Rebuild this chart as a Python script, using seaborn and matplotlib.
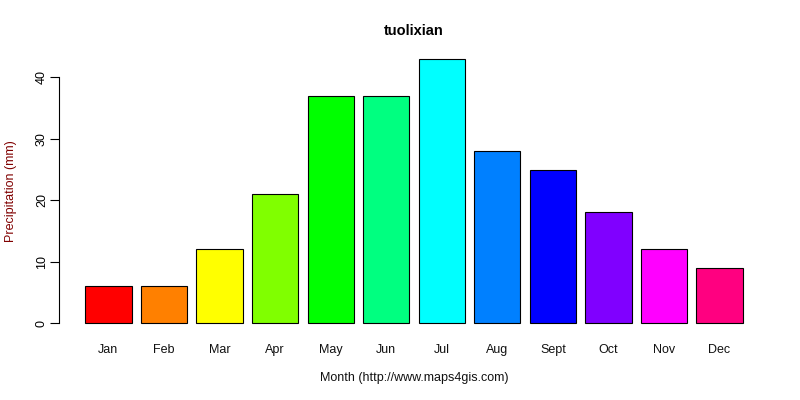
import matplotlib
matplotlib.use("Agg")
import matplotlib.pyplot as plt
import seaborn as sns
import pandas as pd

months = ["Jan", "Feb", "Mar", "Apr", "May", "Jun", "Jul", "Aug", "Sept", "Oct", "Nov", "Dec"]
precip = [6, 6, 12, 21, 37, 37, 43, 28, 25, 18, 12, 9]
colors = ["#FF0000", "#FF8000", "#FFFF00", "#80FF00", "#00FF00", "#00FF80",
          "#00FFFF", "#0080FF", "#0000FF", "#8000FF", "#FF00FF", "#FF0080"]
yticks = [0, 10, 20, 30, 40]

sns.set_style("white")
plt.rcParams["font.family"] = ["Liberation Sans", "DejaVu Sans"]

df = pd.DataFrame({"month": months, "precip": precip})

fig = plt.figure(figsize=(8, 4), dpi=100)
ax = fig.add_axes([59/800, 1-333.6/400, 710/800, 285.2/400])
sns.barplot(data=df, x="month", y="precip", hue="month", palette=colors,
            legend=False, width=1/1.2, edgecolor="black", linewidth=0.8,
            saturation=1, ax=ax)

ax.set_xlim(-0.89, 11.89)
ax.set_ylim(-1.72, 44.72)
for s in ["top", "right", "bottom"]:
    ax.spines[s].set_visible(False)
ax.spines["left"].set_bounds(0, 40)
ax.spines["left"].set_color("black")
ax.spines["left"].set_linewidth(0.8)
ax.set_yticks(yticks)
ax.set_yticklabels([str(v) for v in yticks], rotation=90, va="center")
ax.tick_params(axis="y", length=6.5, width=0.8, pad=1.5, labelsize=9, colors="black",
               left=True)
ax.tick_params(axis="x", length=0, pad=7.5, labelsize=9, labelcolor="#111111")

ax.set_xlabel("Month (http://www.maps4gis.com)", fontsize=9, color="#111111")
ax.set_ylabel("Precipitation (mm)", fontsize=9, color="#800000")
ax.xaxis.set_label_coords(0.5, -0.133)
ax.yaxis.set_label_coords(-0.059, 0.5)
fig.text(414/800, 1-31/400, "tuolixian", fontsize=10.5, fontweight="bold",
         ha="center", va="center", color="black")

fig.savefig("out.png", dpi=100)
